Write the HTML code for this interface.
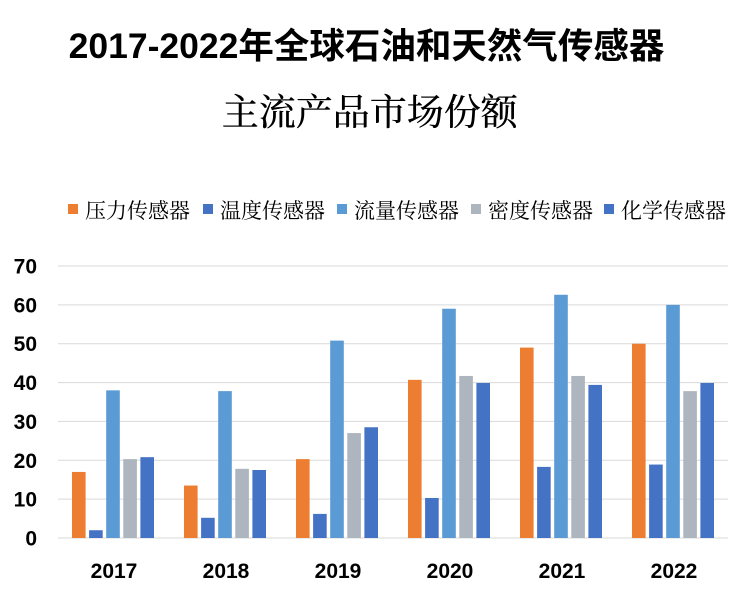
<!DOCTYPE html>
<html><head><meta charset="utf-8">
<style>
body{margin:0;background:#fff;width:739px;height:596px;overflow:hidden;font-family:"Liberation Sans","Noto Sans CJK SC",sans-serif;}
.t{position:absolute;left:0;width:739px;text-align:center;font-weight:bold;color:#000;white-space:nowrap;}
</style></head><body>
<div class="t" style="top:18px;left:-3px;font-size:35.5px">2017-2022年全球石油和天然气传感器</div>
<div class="t" style="top:82px;font-size:37px;font-weight:normal;font-family:'Noto Serif CJK SC','Noto Sans CJK SC',serif;text-shadow:0.5px 0 0 #000">主流产品市场份额</div>
<svg id="c" width="739" height="596" style="position:absolute;left:0;top:0"></svg>
<script>
const categories=["2017","2018","2019","2020","2021","2022"];
const seriesNames=["压力传感器","温度传感器","流量传感器","密度传感器","化学传感器"];
const pressure=[17,13.5,20.3,40.7,49,50];
const temperature=[2,5.2,6.2,10.3,18.3,18.9];
const flow=[38,37.8,50.8,59,62.6,60];
const density=[20.3,17.8,27,41.7,41.7,37.8];
const chemical=[20.8,17.5,28.5,39.9,39.4,39.9];
const yTicks=[0,10,20,30,40,50,60,70];
const series=[pressure,temperature,flow,density,chemical];
const colors=["#ED7D31","#4472C4","#5B9BD5","#ADB5BE","#4472C4"];
const NS="http://www.w3.org/2000/svg";
const svg=document.getElementById('c');
const x0=58,bandW=112,y0=538,pxPer=(538-266)/70;
const y=v=>y0-v*pxPer;
const xb=(i,s)=>x0+i*bandW+14+s*17.1;
function mk(t,a){const e=document.createElementNS(NS,t);for(const k in a)e.setAttribute(k,a[k]);svg.appendChild(e);return e;}
yTicks.forEach(v=>{
 const l=mk('line',{x1:x0,x2:728,y1:y(v),y2:y(v),stroke:'#d9d9d9','stroke-width':1});
 
 
 const t=mk('text',{x:37,y:y(v)+7.5,'text-anchor':'end','font-size':21,'font-weight':'bold',fill:'#000','font-family':'Liberation Sans,sans-serif'});
 t.textContent=v;
 
 
});
series.forEach((arr,s)=>arr.forEach((v,i)=>{
 const r=mk('rect',{x:xb(i,s),y:y(v),width:13.6,height:v*pxPer,fill:colors[s]});
 
 
}));
categories.forEach((c,i)=>{
 const t=mk('text',{x:x0+i*bandW+56,y:578,'text-anchor':'middle','font-size':21,'font-weight':'bold',fill:'#000','font-family':'Liberation Sans,sans-serif'});
 t.textContent=c;
 
 
});
const lx=[68,203,337,471,604];
seriesNames.forEach((n,s)=>{
 const r=mk('rect',{x:lx[s],y:204,width:10,height:10,fill:colors[s]});
 
 
 const t=mk('text',{x:lx[s]+17,y:218,'font-size':21,fill:'#000','font-family':'Noto Serif CJK SC,Noto Sans CJK SC,serif'});
 t.textContent=n;
 
 
});
</script>
</body></html>
